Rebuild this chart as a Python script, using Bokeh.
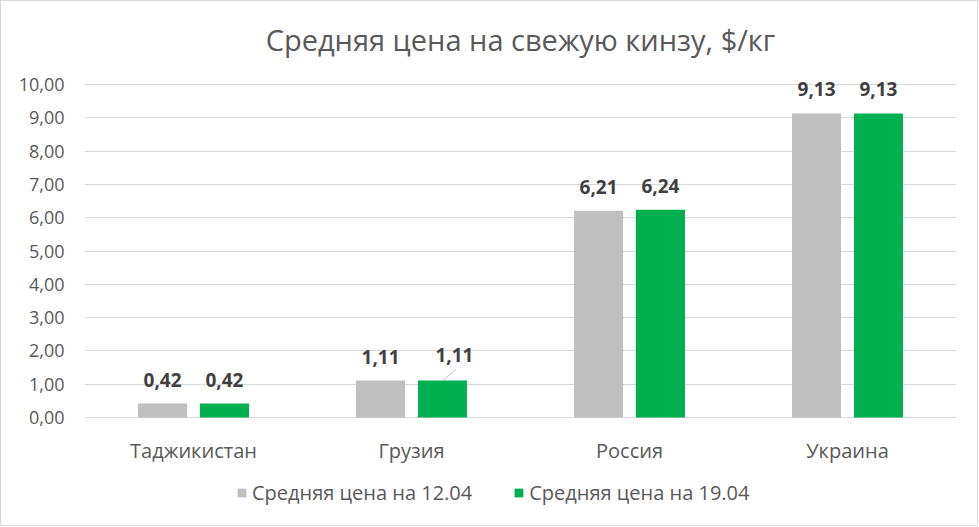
from bokeh.plotting import figure
from bokeh.models import ColumnDataSource, Legend, LegendItem, Range1d, FixedTicker, CustomJSTickFormatter, Label
from bokeh.transform import dodge
from bokeh.core.properties import value
from bokeh.embed import file_html
from bokeh.resources import INLINE

categories = ["Таджикистан", "Грузия", "Россия", "Украина"]
price_1204 = [0.42, 1.11, 6.21, 9.13]
price_1904 = [0.42, 1.11, 6.24, 9.13]
series_names = ["Средняя цена на 12.04", "Средняя цена на 19.04"]
title_text = "Средняя цена на свежую кинзу, $/кг"
y_ticks = [0, 1, 2, 3, 4, 5, 6, 7, 8, 9, 10]

def fmt(v):
    return f"{v:.2f}".replace(".", ",")

# the 19.04 label for Грузия is moved aside (with a leader line) in the reference
moved = 1
la = [fmt(v) for v in price_1204]
lb = [fmt(v) if i != moved else "" for i, v in enumerate(price_1904)]

src = ColumnDataSource(dict(cat=categories, a=price_1204, b=price_1904, la=la, lb=lb,
                            zero=[0] * len(categories)))

FONT = "Segoe UI, Open Sans, Noto Sans, sans-serif"

# frame extends below the 0 line so that category labels and the legend can sit inside it
PX = 333 / 10.0            # pixels per unit on the value axis
TOP_PAD = 11 / PX
BOTTOM_PAD = 108 / PX

p = figure(x_range=categories, y_range=Range1d(-BOTTOM_PAD, 10 + TOP_PAD),
           frame_width=872, frame_height=452,
           output_backend="svg", toolbar_location=None,
           min_border_left=83, min_border_right=21, min_border_top=72, min_border_bottom=0)
p.styles = {"border": "1px solid #d9d9d9"}
p.title.text = title_text
p.title.align = "center"
p.title.text_font = FONT
p.title.text_font_size = "29px"
p.title.text_font_style = "normal"
p.title.text_color = "#595959"
p.title.standoff = 30

p.outline_line_color = None
p.xaxis.visible = False
p.xgrid.grid_line_color = None
p.ygrid.grid_line_color = "#d9d9d9"
p.ygrid.grid_line_width = 1

p.yaxis.ticker = FixedTicker(ticks=y_ticks)
p.yaxis.formatter = CustomJSTickFormatter(code="return tick.toFixed(2).replace('.', ',');")
p.yaxis.axis_line_color = None
p.yaxis.major_tick_line_color = None
p.yaxis.minor_tick_line_color = None
p.yaxis.major_tick_out = 0
p.yaxis.major_tick_in = 0
p.yaxis.minor_tick_out = 0
p.yaxis.major_label_text_font = FONT
p.yaxis.major_label_text_font_size = "18px"
p.yaxis.major_label_text_color = "#595959"
p.yaxis.major_label_standoff = 20

# category labels under the 0 line
p.text(x="cat", y="zero", text="cat", source=src, text_align="center", text_baseline="top",
       y_offset=19, text_font=value(FONT), text_font_size="20px", text_color="#595959")

gray = "#bfbfbf"
green = "#00b050"
OFF = 0.142
r1 = p.vbar(x=dodge("cat", -OFF, range=p.x_range), top="a", width=0.225, source=src,
            fill_color=gray, line_color=None)
r2 = p.vbar(x=dodge("cat", OFF, range=p.x_range), top="b", width=0.225, source=src,
            fill_color=green, line_color=None)

for col, lab, off in (("a", "la", -OFF), ("b", "lb", OFF)):
    p.text(x=dodge("cat", off, range=p.x_range), y=col, text=lab, source=src,
           text_align="center", text_baseline="bottom", y_offset=-17,
           text_font=value(FONT), text_font_size="19px", text_font_style="bold",
           text_color="#404040")

# moved label + leader line for Грузия 19.04
gx = moved + 0.5 + OFF
gy = price_1904[moved]
p.segment(x0=[gx], y0=[gy], x1=[gx + 0.06], y1=[gy + 0.33], line_color="#bfbfbf", line_width=1)
p.add_layout(Label(x=gx, y=gy, x_offset=12, y_offset=19, text=fmt(gy),
                   text_align="center", text_baseline="bottom",
                   text_font=FONT, text_font_size="19px", text_font_style="bold",
                   text_color="#404040"))

legend = Legend(items=[LegendItem(label=series_names[0], renderers=[r1]),
                       LegendItem(label=series_names[1], renderers=[r2])],
                orientation="horizontal", location=(152, 19),
                label_text_font=FONT, label_text_font_size="20px", label_text_color="#595959",
                glyph_width=11, glyph_height=11, spacing=41, label_standoff=5,
                border_line_color=None, background_fill_alpha=0, margin=0, padding=4)
p.add_layout(legend, "center")

open("out.html", "w").write(file_html(p, INLINE))
